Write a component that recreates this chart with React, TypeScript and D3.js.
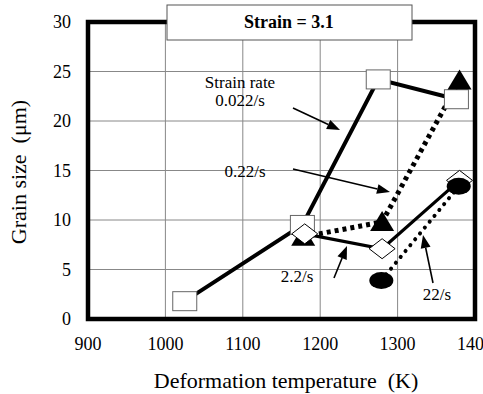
import React from "react";
import * as d3 from "d3";

const xTicks = [900, 1000, 1100, 1200, 1300, 1400];
const yTicks = [0, 5, 10, 15, 20, 25, 30];

const temp022 = [1025, 1177, 1275, 1376];
const size022 = [1.8, 9.5, 24.2, 22.2];
const temp22a = [1178, 1280, 1380];
const size22a = [8.3, 9.8, 24.1];
const temp2_2 = [1180, 1280, 1380];
const size2_2 = [8.6, 7.1, 14.0];
const temp22 = [1279, 1379];
const size22 = [3.9, 13.4];

const W = 483, H = 394;
const x = d3.scaleLinear().domain([900, 1400]).range([88, 475]);
const y = d3.scaleLinear().domain([0, 30]).range([319, 22]);

const zip = (a: number[], b: number[]) => a.map((v, i) => [v, b[i]] as [number, number]);
const line = d3.line<[number, number]>().x(d => x(d[0])).y(d => y(d[1]));

const serif = "Times New Roman, Liberation Serif, Tinos, Noto Serif, DejaVu Serif, FreeSerif, Times, serif";

function Arrow({ x1, y1, x2, y2 }: { x1: number; y1: number; x2: number; y2: number }) {
  const ang = Math.atan2(y2 - y1, x2 - x1);
  const L = 13, Wd = 5;
  const bx = x2 - L * Math.cos(ang), by = y2 - L * Math.sin(ang);
  const px = -Math.sin(ang) * Wd, py = Math.cos(ang) * Wd;
  return (
    <g>
      <line x1={x1} y1={y1} x2={bx} y2={by} stroke="#000" strokeWidth={1.6} />
      <polygon points={`${x2},${y2} ${bx + px},${by + py} ${bx - px},${by - py}`} fill="#000" />
    </g>
  );
}

function T(props: any) {
  return <text fontFamily={serif} style={{ whiteSpace: "pre" }} {...props} />;
}

export default function App() {
  return (
    <svg width={W} height={H} style={{ position: "absolute", left: 0, top: 0, background: "#fff" }}>
      <rect x={0} y={0} width={W} height={H} fill="#fff" />
      {/* grid */}
      {xTicks.slice(1, -1).map(t => (
        <line key={"gx" + t} x1={x(t)} x2={x(t)} y1={y(30)} y2={y(0)} stroke="#888" strokeWidth={1} />
      ))}
      {yTicks.slice(1, -1).map(t => (
        <line key={"gy" + t} x1={x(900)} x2={x(1400)} y1={y(t)} y2={y(t)} stroke="#888" strokeWidth={1} />
      ))}
      {/* frame */}
      <rect x={x(900)} y={y(30)} width={x(1400) - x(900)} height={y(0) - y(30)} fill="none" stroke="#000" strokeWidth={4.5} />
      {/* tick labels */}
      {yTicks.map(t => (
        <T key={"yl" + t} x={71} y={y(t) + 6} textAnchor="end" fontSize={18}>{String(t)}</T>
      ))}
      {xTicks.map(t => (
        <T key={"xl" + t} x={x(t)} y={350} textAnchor="middle" fontSize={18}>{String(t)}</T>
      ))}
      {/* axis titles */}
      <T x={286} y={388} textAnchor="middle" fontSize={22}>{"Deformation temperature  (K)"}</T>
      <T transform="translate(26,172) rotate(-90)" textAnchor="middle" fontSize={22}>{"Grain size  (μm)"}</T>
      {/* title box */}
      <rect x={167} y={5} width={245} height={35} fill="#fff" stroke="#555" strokeWidth={1} />
      <T x={289} y={28} textAnchor="middle" fontSize={18} fontWeight="bold">Strain = 3.1</T>
      {/* lines */}
      <path d={line(zip(temp022, size022)) || ""} fill="none" stroke="#000" strokeWidth={4} />
      <path d={line(zip(temp2_2, size2_2)) || ""} fill="none" stroke="#000" strokeWidth={3.2} />
      <path d={line(zip(temp22a, size22a)) || ""} fill="none" stroke="#000" strokeWidth={5} strokeDasharray="4 4" />
      <path d={line(zip(temp22, size22)) || ""} fill="none" stroke="#000" strokeWidth={4} strokeDasharray="0.1 7.5" strokeLinecap="round" />
      {/* markers */}
      {zip(temp022, size022).map((d, i) => (
        <rect key={"sq" + i} x={x(d[0]) - 12} y={y(d[1]) - 9.5} width={24} height={19} fill="#fff" stroke="#666" strokeWidth={1} />
      ))}
      {zip(temp22a, size22a).map((d, i) => {
        const cx = x(d[0]), cy = y(d[1]);
        return <polygon key={"tr" + i} points={`${cx},${cy - 11} ${cx + 12},${cy + 9} ${cx - 12},${cy + 9}`} fill="#000" />;
      })}
      {zip(temp2_2, size2_2).map((d, i) => {
        const cx = x(d[0]), cy = y(d[1]);
        return <polygon key={"di" + i} points={`${cx},${cy - 10} ${cx + 13},${cy} ${cx},${cy + 10} ${cx - 13},${cy}`} fill="#fff" stroke="#000" strokeWidth={1} />;
      })}
      {zip(temp22, size22).map((d, i) => (
        <ellipse key={"el" + i} cx={x(d[0])} cy={y(d[1])} rx={12} ry={8.5} fill="#000" />
      ))}
      {/* annotations */}
      <T x={240} y={88} textAnchor="middle" fontSize={17}>Strain rate</T>
      <T x={240} y={106} textAnchor="middle" fontSize={17}>0.022/s</T>
      <Arrow x1={293} y1={108} x2={340} y2={130} />
      <T x={245} y={177} textAnchor="middle" fontSize={17}>0.22/s</T>
      <Arrow x1={293} y1={169} x2={390} y2={192} />
      <T x={297} y={282} textAnchor="middle" fontSize={17}>2.2/s</T>
      <Arrow x1={334} y1={278} x2={347} y2={246} />
      <T x={437} y={300} textAnchor="middle" fontSize={17}>22/s</T>
      <Arrow x1={433} y1={283} x2={423} y2={235} />
    </svg>
  );
}
